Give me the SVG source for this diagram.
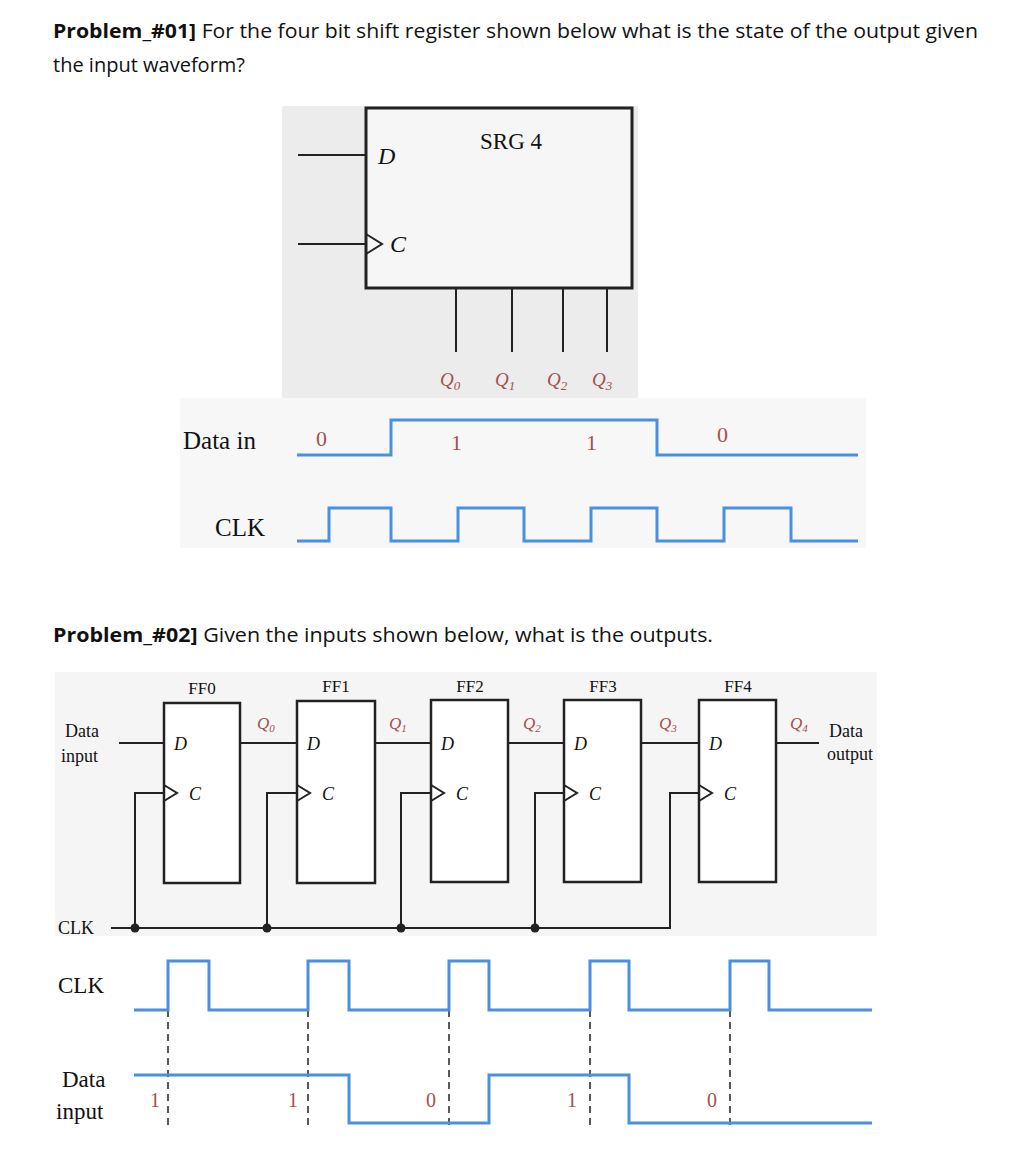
<svg xmlns="http://www.w3.org/2000/svg" width="1014" height="1164" viewBox="0 0 1014 1164">
<style>
.h{font-family:"Open Sans","Liberation Sans",sans-serif;font-size:20px;fill:#111}
.s{font-family:"Liberation Serif",serif;fill:#111}
.i{font-family:"Liberation Serif",serif;font-style:italic;fill:#111}
.q{font-family:"Liberation Serif",serif;font-style:italic;fill:#a0524f}
.r{font-family:"Liberation Serif",serif;fill:#a0524f}
.w{fill:none;stroke:#4a90e2;stroke-width:3}
.k{fill:none;stroke:#222;stroke-width:2}
.b{fill:#fff;stroke:#222;stroke-width:2.5}
.d{stroke:#222;stroke-width:1.5;stroke-dasharray:7,5}
</style>
<rect width="1014" height="1164" fill="#fff"/>
<text class="h" x="53" y="38" textLength="925" lengthAdjust="spacingAndGlyphs"><tspan font-weight="bold">Problem_#01]</tspan> For the four bit shift register shown below what is the state of the output given</text>
<text class="h" x="53" y="72" textLength="192" lengthAdjust="spacingAndGlyphs">the input waveform?</text>
<text class="h" x="53" y="642" textLength="660" lengthAdjust="spacingAndGlyphs"><tspan font-weight="bold">Problem_#02]</tspan> Given the inputs shown below, what is the outputs.</text>

<g id="srg4">
<rect x="282" y="106" width="356" height="292" fill="#ececec"/>
<rect x="366" y="108" width="266" height="180" fill="#f6f6f6" stroke="#222" stroke-width="3"/>
<path class="k" d="M298 155H366M298 244H366M366 234L382 244L366 254M456 288V352M512 288V352M563 288V352M607 288V352"/>
<text class="s" x="480" y="149" font-size="23">SRG 4</text>
<text class="i" x="378" y="164" font-size="24">D</text>
<text class="i" x="390" y="252" font-size="24">C</text>
<text class="q" x="440" y="386" font-size="19">Q<tspan font-size="13" dy="4">0</tspan></text>
<text class="q" x="495" y="386" font-size="19">Q<tspan font-size="13" dy="4">1</tspan></text>
<text class="q" x="547" y="386" font-size="19">Q<tspan font-size="13" dy="4">2</tspan></text>
<text class="q" x="592" y="386" font-size="19">Q<tspan font-size="13" dy="4">3</tspan></text>
</g>

<g id="wave1">
<rect x="180" y="398" width="686" height="150" fill="#f7f7f7"/>
<text class="s" x="183" y="449" font-size="25">Data in</text>
<text class="s" x="215" y="536" font-size="25">CLK</text>
<text class="r" x="316" y="446" font-size="22">0</text>
<text class="r" x="451" y="450" font-size="22">1</text>
<text class="r" x="586" y="450" font-size="22">1</text>
<text class="r" x="717" y="442" font-size="22">0</text>
<path class="w" d="M297 455H391V420H657V455H858"/>
<path class="w" d="M297 541H329V508H391V541H458V508H524V541H591V508H657V541H724V508H791V541H858"/>
</g>

<g id="p2bg"><rect x="55" y="672" width="822" height="264" fill="#f5f5f5"/></g>

<g id="connectors">
<path class="k" d="M119 743H164M240 743H297M375 743H431M508 743H564M641 743H699M776 743H819"/>
<path class="k" d="M111 928H670V793H699M135 928V793H164M267 928V793H297M401 928V793H431M535 928V793H564"/>
<circle cx="135" cy="928" r="4.5" fill="#222"/>
<circle cx="267" cy="928" r="4.5" fill="#222"/>
<circle cx="401" cy="928" r="4.5" fill="#222"/>
<circle cx="535" cy="928" r="4.5" fill="#222"/>
</g>

<g id="ff0"><rect class="b" x="164" y="703" width="76" height="180"/><path class="k" d="M164 785L177 793L164 801"/><text class="s" x="202" y="694" font-size="17" text-anchor="middle">FF0</text><text class="i" x="174" y="750" font-size="18">D</text><text class="i" x="189" y="800" font-size="18">C</text></g>
<g id="ff1"><rect class="b" x="297" y="701" width="78" height="182"/><path class="k" d="M297 785L310 793L297 801"/><text class="s" x="336" y="692" font-size="17" text-anchor="middle">FF1</text><text class="i" x="307" y="750" font-size="18">D</text><text class="i" x="322" y="800" font-size="18">C</text></g>
<g id="ff2"><rect class="b" x="431" y="700" width="77" height="182"/><path class="k" d="M431 785L444 793L431 801"/><text class="s" x="470" y="692" font-size="17" text-anchor="middle">FF2</text><text class="i" x="441" y="750" font-size="18">D</text><text class="i" x="456" y="800" font-size="18">C</text></g>
<g id="ff3"><rect class="b" x="564" y="700" width="77" height="182"/><path class="k" d="M564 785L577 793L564 801"/><text class="s" x="603" y="692" font-size="17" text-anchor="middle">FF3</text><text class="i" x="574" y="750" font-size="18">D</text><text class="i" x="589" y="800" font-size="18">C</text></g>
<g id="ff4"><rect class="b" x="699" y="700" width="77" height="182"/><path class="k" d="M699 785L712 793L699 801"/><text class="s" x="738" y="692" font-size="17" text-anchor="middle">FF4</text><text class="i" x="709" y="750" font-size="18">D</text><text class="i" x="724" y="800" font-size="18">C</text></g>

<g id="labels2">
<text class="s" x="65" y="737" font-size="18">Data</text>
<text class="s" x="61" y="762" font-size="18">input</text>
<text class="s" x="58" y="934" font-size="18">CLK</text>
<text class="s" x="829" y="737" font-size="18">Data</text>
<text class="s" x="827" y="760" font-size="18">output</text>
<text class="q" x="257" y="729" font-size="17">Q<tspan font-size="11" dy="3">0</tspan></text>
<text class="q" x="389" y="729" font-size="17">Q<tspan font-size="11" dy="3">1</tspan></text>
<text class="q" x="523" y="729" font-size="17">Q<tspan font-size="11" dy="3">2</tspan></text>
<text class="q" x="659" y="729" font-size="17">Q<tspan font-size="11" dy="3">3</tspan></text>
<text class="q" x="790" y="729" font-size="17">Q<tspan font-size="11" dy="3">4</tspan></text>
</g>

<g id="wave2">
<text class="s" x="58" y="993" font-size="23">CLK</text>
<text class="s" x="62" y="1087" font-size="23">Data</text>
<text class="s" x="56" y="1119" font-size="23">input</text>
<path class="d" d="M168 1010V1128M308 1010V1128M449 1010V1128M590 1010V1128M730 1010V1128"/>
<path class="w" d="M134 1010H168V961H209V1010H308V961H349V1010H449V961H489V1010H590V961H629V1010H730V961H769V1010H872"/>
<path class="w" d="M134 1075H349V1123H489V1075H629V1123H872"/>
<text class="r" x="150" y="1107" font-size="20">1</text>
<text class="r" x="288" y="1107" font-size="20">1</text>
<text class="r" x="426" y="1107" font-size="20">0</text>
<text class="r" x="567" y="1107" font-size="20">1</text>
<text class="r" x="707" y="1107" font-size="20">0</text>
</g>
</svg>
